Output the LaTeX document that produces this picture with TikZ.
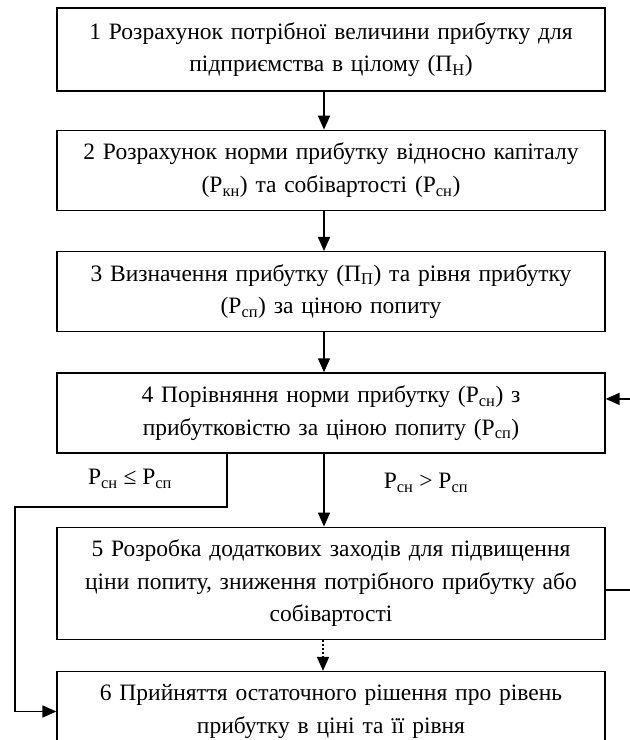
\documentclass[tikz,border=0pt]{standalone}
\usepackage{fontspec}
\setmainfont{Liberation Serif}
\usepackage{tikz}
\usetikzlibrary{arrows.meta,positioning}

\begin{document}
\begin{tikzpicture}[
		font=\fontsize{23.5}{32.5}\selectfont,
		>={Triangle[length=14pt,width=12pt]},
		line/.style={->, line width=1.6pt},
		dotline/.style={->, line width=1.6pt, dash pattern=on 2pt off 2pt},
		stage/.style={draw, line width=1.3pt, align=center, text width=540pt, minimum width=548pt, minimum height=80pt, inner sep=2pt},
		cond/.style={inner sep=1pt}
		]
		\useasboundingbox (0,0) rectangle (630pt,-740pt);
		\clip (0,0) rectangle (630pt,-740pt);
		
		% Stages of the calculation
		\node[stage, minimum height=83pt] (box1) at (331pt,-49.5pt) {1 Розрахунок потрібної величини прибутку для\\підприємства в цілому (П\textsubscript{Н})};
		\node[stage, below=38pt of box1] (box2) {2 Розрахунок норми прибутку відносно капіталу\\(Р\textsubscript{кн}) та собівартості (Р\textsubscript{сн})};
		\node[stage, below=40pt of box2] (box3) {3 Визначення прибутку (П\textsubscript{П}) та рівня прибутку\\(Р\textsubscript{сп}) за ціною попиту};
		\node[stage, below=40pt of box3] (box4) {4 Порівняння норми прибутку (Р\textsubscript{сн}) з\\прибутковістю за ціною попиту (Р\textsubscript{сп})};
		\node[stage, below=73pt of box4, minimum height=112pt] (box5) {5 Розробка додаткових заходів для підвищення\\ціни попиту, зниження потрібного прибутку або\\собівартості};
		\node[stage, below=31pt of box5] (box6) {6 Прийняття остаточного рішення про рівень\\прибутку в ціні та її рівня};
		
		% Main flow
		\draw[line] ([xshift=-7pt]box1.south) -- ([xshift=-7pt]box2.north);
		\draw[line] ([xshift=-7pt]box2.south) -- ([xshift=-7pt]box3.north);
		\draw[line] ([xshift=-7pt]box3.south) -- ([xshift=-7pt]box4.north);
		\draw[line] ([xshift=-7pt]box4.south) -- node[pos=0.4, right=58pt, cond] (more) {Р\textsubscript{сн} > Р\textsubscript{сп}} ([xshift=-7pt]box5.north);
		\draw[dotline] ([xshift=-8pt]box5.south) -- ([xshift=-8pt]box6.north);
		
		% Branch straight to the decision
		\coordinate (turn) at (15pt,-507pt);
		\node[cond] (less) at (130pt,-479pt) {Р\textsubscript{сн} ≤ Р\textsubscript{сп}};
		\draw[line] ([xshift=-104pt]box4.south) |- (turn) |- (box6.west);
		
		% Return loop on the right
		\draw[line] ([yshift=-7pt]box5.east) -- ++(30pt,0) |- ([yshift=14pt]box4.east);
	\end{tikzpicture}
\end{document}
